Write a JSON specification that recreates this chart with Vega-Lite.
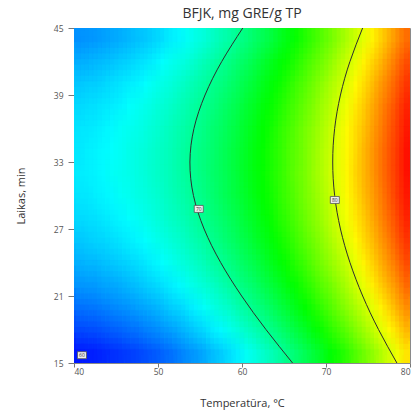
{
  "$schema": "https://vega.github.io/schema/vega-lite/v6.json",
  "width": 336,
  "height": 335,
  "autosize": {"type": "none"},
  "padding": {"left": 74, "top": 28, "right": 2, "bottom": 50},
  "background": "white",
  "title": {
    "text": "BFJK, mg GRE/g TP",
    "font": "Open Sans",
    "fontSize": 14,
    "fontWeight": "normal",
    "color": "#333333",
    "offset": 3
  },
  "config": {
    "view": {"stroke": "#8a8a8a", "strokeWidth": 1},
    "axis": {
      "grid": false,
      "domain": false,
      "labelFont": "Open Sans",
      "labelFontSize": 8.5,
      "labelColor": "#555555",
      "tickColor": "#777777",
      "titleFont": "Open Sans",
      "titleFontSize": 11,
      "titleFontWeight": "normal",
      "titleColor": "#333333"
    }
  },
  "datasets": {
    "surface": [
      {"temp":40.5,"time":16,"bfjk":60.9},{"temp":41.5,"time":16,"bfjk":61.0},{"temp":42.5,"time":16,"bfjk":61.1},{"temp":43.5,"time":16,"bfjk":61.3},{"temp":44.5,"time":16,"bfjk":61.5},{"temp":45.5,"time":16,"bfjk":61.7},{"temp":46.5,"time":16,"bfjk":61.9},{"temp":47.5,"time":16,"bfjk":62.1},{"temp":48.5,"time":16,"bfjk":62.4},{"temp":49.5,"time":16,"bfjk":62.7},
      {"temp":50.5,"time":16,"bfjk":63.0},{"temp":51.5,"time":16,"bfjk":63.3},{"temp":52.5,"time":16,"bfjk":63.7},{"temp":53.5,"time":16,"bfjk":64.1},{"temp":54.5,"time":16,"bfjk":64.5},{"temp":55.5,"time":16,"bfjk":64.9},{"temp":56.5,"time":16,"bfjk":65.4},{"temp":57.5,"time":16,"bfjk":65.8},{"temp":58.5,"time":16,"bfjk":66.3},{"temp":59.5,"time":16,"bfjk":66.8},
      {"temp":60.5,"time":16,"bfjk":67.4},{"temp":61.5,"time":16,"bfjk":67.9},{"temp":62.5,"time":16,"bfjk":68.5},{"temp":63.5,"time":16,"bfjk":69.1},{"temp":64.5,"time":16,"bfjk":69.7},{"temp":65.5,"time":16,"bfjk":70.4},{"temp":66.5,"time":16,"bfjk":71.1},{"temp":67.5,"time":16,"bfjk":71.8},{"temp":68.5,"time":16,"bfjk":72.5},{"temp":69.5,"time":16,"bfjk":73.2},
      {"temp":70.5,"time":16,"bfjk":74.0},{"temp":71.5,"time":16,"bfjk":74.7},{"temp":72.5,"time":16,"bfjk":75.5},{"temp":73.5,"time":16,"bfjk":76.4},{"temp":74.5,"time":16,"bfjk":77.2},{"temp":75.5,"time":16,"bfjk":78.1},{"temp":76.5,"time":16,"bfjk":79.0},{"temp":77.5,"time":16,"bfjk":79.9},{"temp":78.5,"time":16,"bfjk":80.8},{"temp":79.5,"time":16,"bfjk":81.8},

      {"temp":40.5,"time":18,"bfjk":62.2},{"temp":41.5,"time":18,"bfjk":62.3},{"temp":42.5,"time":18,"bfjk":62.4},{"temp":43.5,"time":18,"bfjk":62.6},{"temp":44.5,"time":18,"bfjk":62.8},{"temp":45.5,"time":18,"bfjk":63.0},{"temp":46.5,"time":18,"bfjk":63.2},{"temp":47.5,"time":18,"bfjk":63.4},{"temp":48.5,"time":18,"bfjk":63.7},{"temp":49.5,"time":18,"bfjk":64.0},
      {"temp":50.5,"time":18,"bfjk":64.3},{"temp":51.5,"time":18,"bfjk":64.6},{"temp":52.5,"time":18,"bfjk":65.0},{"temp":53.5,"time":18,"bfjk":65.4},{"temp":54.5,"time":18,"bfjk":65.8},{"temp":55.5,"time":18,"bfjk":66.2},{"temp":56.5,"time":18,"bfjk":66.7},{"temp":57.5,"time":18,"bfjk":67.1},{"temp":58.5,"time":18,"bfjk":67.6},{"temp":59.5,"time":18,"bfjk":68.1},
      {"temp":60.5,"time":18,"bfjk":68.7},{"temp":61.5,"time":18,"bfjk":69.2},{"temp":62.5,"time":18,"bfjk":69.8},{"temp":63.5,"time":18,"bfjk":70.4},{"temp":64.5,"time":18,"bfjk":71.0},{"temp":65.5,"time":18,"bfjk":71.7},{"temp":66.5,"time":18,"bfjk":72.4},{"temp":67.5,"time":18,"bfjk":73.0},{"temp":68.5,"time":18,"bfjk":73.8},{"temp":69.5,"time":18,"bfjk":74.5},
      {"temp":70.5,"time":18,"bfjk":75.3},{"temp":71.5,"time":18,"bfjk":76.0},{"temp":72.5,"time":18,"bfjk":76.8},{"temp":73.5,"time":18,"bfjk":77.7},{"temp":74.5,"time":18,"bfjk":78.5},{"temp":75.5,"time":18,"bfjk":79.4},{"temp":76.5,"time":18,"bfjk":80.3},{"temp":77.5,"time":18,"bfjk":81.2},{"temp":78.5,"time":18,"bfjk":82.1},{"temp":79.5,"time":18,"bfjk":83.1},

      {"temp":40.5,"time":20,"bfjk":63.3},{"temp":41.5,"time":20,"bfjk":63.4},{"temp":42.5,"time":20,"bfjk":63.5},{"temp":43.5,"time":20,"bfjk":63.7},{"temp":44.5,"time":20,"bfjk":63.9},{"temp":45.5,"time":20,"bfjk":64.1},{"temp":46.5,"time":20,"bfjk":64.3},{"temp":47.5,"time":20,"bfjk":64.6},{"temp":48.5,"time":20,"bfjk":64.8},{"temp":49.5,"time":20,"bfjk":65.1},
      {"temp":50.5,"time":20,"bfjk":65.4},{"temp":51.5,"time":20,"bfjk":65.8},{"temp":52.5,"time":20,"bfjk":66.1},{"temp":53.5,"time":20,"bfjk":66.5},{"temp":54.5,"time":20,"bfjk":66.9},{"temp":55.5,"time":20,"bfjk":67.3},{"temp":56.5,"time":20,"bfjk":67.8},{"temp":57.5,"time":20,"bfjk":68.3},{"temp":58.5,"time":20,"bfjk":68.7},{"temp":59.5,"time":20,"bfjk":69.3},
      {"temp":60.5,"time":20,"bfjk":69.8},{"temp":61.5,"time":20,"bfjk":70.4},{"temp":62.5,"time":20,"bfjk":70.9},{"temp":63.5,"time":20,"bfjk":71.5},{"temp":64.5,"time":20,"bfjk":72.2},{"temp":65.5,"time":20,"bfjk":72.8},{"temp":66.5,"time":20,"bfjk":73.5},{"temp":67.5,"time":20,"bfjk":74.2},{"temp":68.5,"time":20,"bfjk":74.9},{"temp":69.5,"time":20,"bfjk":75.6},
      {"temp":70.5,"time":20,"bfjk":76.4},{"temp":71.5,"time":20,"bfjk":77.2},{"temp":72.5,"time":20,"bfjk":78.0},{"temp":73.5,"time":20,"bfjk":78.8},{"temp":74.5,"time":20,"bfjk":79.6},{"temp":75.5,"time":20,"bfjk":80.5},{"temp":76.5,"time":20,"bfjk":81.4},{"temp":77.5,"time":20,"bfjk":82.3},{"temp":78.5,"time":20,"bfjk":83.3},{"temp":79.5,"time":20,"bfjk":84.2},

      {"temp":40.5,"time":22,"bfjk":64.3},{"temp":41.5,"time":22,"bfjk":64.4},{"temp":42.5,"time":22,"bfjk":64.5},{"temp":43.5,"time":22,"bfjk":64.7},{"temp":44.5,"time":22,"bfjk":64.8},{"temp":45.5,"time":22,"bfjk":65.0},{"temp":46.5,"time":22,"bfjk":65.3},{"temp":47.5,"time":22,"bfjk":65.5},{"temp":48.5,"time":22,"bfjk":65.8},{"temp":49.5,"time":22,"bfjk":66.1},
      {"temp":50.5,"time":22,"bfjk":66.4},{"temp":51.5,"time":22,"bfjk":66.7},{"temp":52.5,"time":22,"bfjk":67.1},{"temp":53.5,"time":22,"bfjk":67.5},{"temp":54.5,"time":22,"bfjk":67.9},{"temp":55.5,"time":22,"bfjk":68.3},{"temp":56.5,"time":22,"bfjk":68.7},{"temp":57.5,"time":22,"bfjk":69.2},{"temp":58.5,"time":22,"bfjk":69.7},{"temp":59.5,"time":22,"bfjk":70.2},
      {"temp":60.5,"time":22,"bfjk":70.8},{"temp":61.5,"time":22,"bfjk":71.3},{"temp":62.5,"time":22,"bfjk":71.9},{"temp":63.5,"time":22,"bfjk":72.5},{"temp":64.5,"time":22,"bfjk":73.1},{"temp":65.5,"time":22,"bfjk":73.8},{"temp":66.5,"time":22,"bfjk":74.4},{"temp":67.5,"time":22,"bfjk":75.1},{"temp":68.5,"time":22,"bfjk":75.8},{"temp":69.5,"time":22,"bfjk":76.6},
      {"temp":70.5,"time":22,"bfjk":77.3},{"temp":71.5,"time":22,"bfjk":78.1},{"temp":72.5,"time":22,"bfjk":78.9},{"temp":73.5,"time":22,"bfjk":79.8},{"temp":74.5,"time":22,"bfjk":80.6},{"temp":75.5,"time":22,"bfjk":81.5},{"temp":76.5,"time":22,"bfjk":82.4},{"temp":77.5,"time":22,"bfjk":83.3},{"temp":78.5,"time":22,"bfjk":84.2},{"temp":79.5,"time":22,"bfjk":85.2},

      {"temp":40.5,"time":24,"bfjk":65.1},{"temp":41.5,"time":24,"bfjk":65.2},{"temp":42.5,"time":24,"bfjk":65.3},{"temp":43.5,"time":24,"bfjk":65.5},{"temp":44.5,"time":24,"bfjk":65.7},{"temp":45.5,"time":24,"bfjk":65.9},{"temp":46.5,"time":24,"bfjk":66.1},{"temp":47.5,"time":24,"bfjk":66.3},{"temp":48.5,"time":24,"bfjk":66.6},{"temp":49.5,"time":24,"bfjk":66.9},
      {"temp":50.5,"time":24,"bfjk":67.2},{"temp":51.5,"time":24,"bfjk":67.5},{"temp":52.5,"time":24,"bfjk":67.9},{"temp":53.5,"time":24,"bfjk":68.3},{"temp":54.5,"time":24,"bfjk":68.7},{"temp":55.5,"time":24,"bfjk":69.1},{"temp":56.5,"time":24,"bfjk":69.6},{"temp":57.5,"time":24,"bfjk":70.0},{"temp":58.5,"time":24,"bfjk":70.5},{"temp":59.5,"time":24,"bfjk":71.0},
      {"temp":60.5,"time":24,"bfjk":71.6},{"temp":61.5,"time":24,"bfjk":72.1},{"temp":62.5,"time":24,"bfjk":72.7},{"temp":63.5,"time":24,"bfjk":73.3},{"temp":64.5,"time":24,"bfjk":73.9},{"temp":65.5,"time":24,"bfjk":74.6},{"temp":66.5,"time":24,"bfjk":75.3},{"temp":67.5,"time":24,"bfjk":75.9},{"temp":68.5,"time":24,"bfjk":76.7},{"temp":69.5,"time":24,"bfjk":77.4},
      {"temp":70.5,"time":24,"bfjk":78.2},{"temp":71.5,"time":24,"bfjk":78.9},{"temp":72.5,"time":24,"bfjk":79.7},{"temp":73.5,"time":24,"bfjk":80.6},{"temp":74.5,"time":24,"bfjk":81.4},{"temp":75.5,"time":24,"bfjk":82.3},{"temp":76.5,"time":24,"bfjk":83.2},{"temp":77.5,"time":24,"bfjk":84.1},{"temp":78.5,"time":24,"bfjk":85.0},{"temp":79.5,"time":24,"bfjk":86.0},

      {"temp":40.5,"time":26,"bfjk":65.7},{"temp":41.5,"time":26,"bfjk":65.8},{"temp":42.5,"time":26,"bfjk":66.0},{"temp":43.5,"time":26,"bfjk":66.1},{"temp":44.5,"time":26,"bfjk":66.3},{"temp":45.5,"time":26,"bfjk":66.5},{"temp":46.5,"time":26,"bfjk":66.7},{"temp":47.5,"time":26,"bfjk":67.0},{"temp":48.5,"time":26,"bfjk":67.2},{"temp":49.5,"time":26,"bfjk":67.5},
      {"temp":50.5,"time":26,"bfjk":67.8},{"temp":51.5,"time":26,"bfjk":68.2},{"temp":52.5,"time":26,"bfjk":68.5},{"temp":53.5,"time":26,"bfjk":68.9},{"temp":54.5,"time":26,"bfjk":69.3},{"temp":55.5,"time":26,"bfjk":69.7},{"temp":56.5,"time":26,"bfjk":70.2},{"temp":57.5,"time":26,"bfjk":70.7},{"temp":58.5,"time":26,"bfjk":71.2},{"temp":59.5,"time":26,"bfjk":71.7},
      {"temp":60.5,"time":26,"bfjk":72.2},{"temp":61.5,"time":26,"bfjk":72.8},{"temp":62.5,"time":26,"bfjk":73.3},{"temp":63.5,"time":26,"bfjk":73.9},{"temp":64.5,"time":26,"bfjk":74.6},{"temp":65.5,"time":26,"bfjk":75.2},{"temp":66.5,"time":26,"bfjk":75.9},{"temp":67.5,"time":26,"bfjk":76.6},{"temp":68.5,"time":26,"bfjk":77.3},{"temp":69.5,"time":26,"bfjk":78.0},
      {"temp":70.5,"time":26,"bfjk":78.8},{"temp":71.5,"time":26,"bfjk":79.6},{"temp":72.5,"time":26,"bfjk":80.4},{"temp":73.5,"time":26,"bfjk":81.2},{"temp":74.5,"time":26,"bfjk":82.1},{"temp":75.5,"time":26,"bfjk":82.9},{"temp":76.5,"time":26,"bfjk":83.8},{"temp":77.5,"time":26,"bfjk":84.7},{"temp":78.5,"time":26,"bfjk":85.7},{"temp":79.5,"time":26,"bfjk":86.6},

      {"temp":40.5,"time":28,"bfjk":66.2},{"temp":41.5,"time":28,"bfjk":66.3},{"temp":42.5,"time":28,"bfjk":66.4},{"temp":43.5,"time":28,"bfjk":66.6},{"temp":44.5,"time":28,"bfjk":66.8},{"temp":45.5,"time":28,"bfjk":67.0},{"temp":46.5,"time":28,"bfjk":67.2},{"temp":47.5,"time":28,"bfjk":67.4},{"temp":48.5,"time":28,"bfjk":67.7},{"temp":49.5,"time":28,"bfjk":68.0},
      {"temp":50.5,"time":28,"bfjk":68.3},{"temp":51.5,"time":28,"bfjk":68.7},{"temp":52.5,"time":28,"bfjk":69.0},{"temp":53.5,"time":28,"bfjk":69.4},{"temp":54.5,"time":28,"bfjk":69.8},{"temp":55.5,"time":28,"bfjk":70.2},{"temp":56.5,"time":28,"bfjk":70.7},{"temp":57.5,"time":28,"bfjk":71.1},{"temp":58.5,"time":28,"bfjk":71.6},{"temp":59.5,"time":28,"bfjk":72.1},
      {"temp":60.5,"time":28,"bfjk":72.7},{"temp":61.5,"time":28,"bfjk":73.2},{"temp":62.5,"time":28,"bfjk":73.8},{"temp":63.5,"time":28,"bfjk":74.4},{"temp":64.5,"time":28,"bfjk":75.1},{"temp":65.5,"time":28,"bfjk":75.7},{"temp":66.5,"time":28,"bfjk":76.4},{"temp":67.5,"time":28,"bfjk":77.1},{"temp":68.5,"time":28,"bfjk":77.8},{"temp":69.5,"time":28,"bfjk":78.5},
      {"temp":70.5,"time":28,"bfjk":79.3},{"temp":71.5,"time":28,"bfjk":80.1},{"temp":72.5,"time":28,"bfjk":80.9},{"temp":73.5,"time":28,"bfjk":81.7},{"temp":74.5,"time":28,"bfjk":82.5},{"temp":75.5,"time":28,"bfjk":83.4},{"temp":76.5,"time":28,"bfjk":84.3},{"temp":77.5,"time":28,"bfjk":85.2},{"temp":78.5,"time":28,"bfjk":86.1},{"temp":79.5,"time":28,"bfjk":87.1},

      {"temp":40.5,"time":30,"bfjk":66.5},{"temp":41.5,"time":30,"bfjk":66.6},{"temp":42.5,"time":30,"bfjk":66.8},{"temp":43.5,"time":30,"bfjk":66.9},{"temp":44.5,"time":30,"bfjk":67.1},{"temp":45.5,"time":30,"bfjk":67.3},{"temp":46.5,"time":30,"bfjk":67.5},{"temp":47.5,"time":30,"bfjk":67.8},{"temp":48.5,"time":30,"bfjk":68.0},{"temp":49.5,"time":30,"bfjk":68.3},
      {"temp":50.5,"time":30,"bfjk":68.6},{"temp":51.5,"time":30,"bfjk":69.0},{"temp":52.5,"time":30,"bfjk":69.3},{"temp":53.5,"time":30,"bfjk":69.7},{"temp":54.5,"time":30,"bfjk":70.1},{"temp":55.5,"time":30,"bfjk":70.5},{"temp":56.5,"time":30,"bfjk":71.0},{"temp":57.5,"time":30,"bfjk":71.5},{"temp":58.5,"time":30,"bfjk":72.0},{"temp":59.5,"time":30,"bfjk":72.5},
      {"temp":60.5,"time":30,"bfjk":73.0},{"temp":61.5,"time":30,"bfjk":73.6},{"temp":62.5,"time":30,"bfjk":74.1},{"temp":63.5,"time":30,"bfjk":74.7},{"temp":64.5,"time":30,"bfjk":75.4},{"temp":65.5,"time":30,"bfjk":76.0},{"temp":66.5,"time":30,"bfjk":76.7},{"temp":67.5,"time":30,"bfjk":77.4},{"temp":68.5,"time":30,"bfjk":78.1},{"temp":69.5,"time":30,"bfjk":78.8},
      {"temp":70.5,"time":30,"bfjk":79.6},{"temp":71.5,"time":30,"bfjk":80.4},{"temp":72.5,"time":30,"bfjk":81.2},{"temp":73.5,"time":30,"bfjk":82.0},{"temp":74.5,"time":30,"bfjk":82.9},{"temp":75.5,"time":30,"bfjk":83.7},{"temp":76.5,"time":30,"bfjk":84.6},{"temp":77.5,"time":30,"bfjk":85.5},{"temp":78.5,"time":30,"bfjk":86.5},{"temp":79.5,"time":30,"bfjk":87.4},

      {"temp":40.5,"time":32,"bfjk":66.7},{"temp":41.5,"time":32,"bfjk":66.8},{"temp":42.5,"time":32,"bfjk":66.9},{"temp":43.5,"time":32,"bfjk":67.1},{"temp":44.5,"time":32,"bfjk":67.3},{"temp":45.5,"time":32,"bfjk":67.5},{"temp":46.5,"time":32,"bfjk":67.7},{"temp":47.5,"time":32,"bfjk":67.9},{"temp":48.5,"time":32,"bfjk":68.2},{"temp":49.5,"time":32,"bfjk":68.5},
      {"temp":50.5,"time":32,"bfjk":68.8},{"temp":51.5,"time":32,"bfjk":69.1},{"temp":52.5,"time":32,"bfjk":69.5},{"temp":53.5,"time":32,"bfjk":69.9},{"temp":54.5,"time":32,"bfjk":70.3},{"temp":55.5,"time":32,"bfjk":70.7},{"temp":56.5,"time":32,"bfjk":71.2},{"temp":57.5,"time":32,"bfjk":71.6},{"temp":58.5,"time":32,"bfjk":72.1},{"temp":59.5,"time":32,"bfjk":72.6},
      {"temp":60.5,"time":32,"bfjk":73.2},{"temp":61.5,"time":32,"bfjk":73.7},{"temp":62.5,"time":32,"bfjk":74.3},{"temp":63.5,"time":32,"bfjk":74.9},{"temp":64.5,"time":32,"bfjk":75.5},{"temp":65.5,"time":32,"bfjk":76.2},{"temp":66.5,"time":32,"bfjk":76.9},{"temp":67.5,"time":32,"bfjk":77.5},{"temp":68.5,"time":32,"bfjk":78.3},{"temp":69.5,"time":32,"bfjk":79.0},
      {"temp":70.5,"time":32,"bfjk":79.8},{"temp":71.5,"time":32,"bfjk":80.5},{"temp":72.5,"time":32,"bfjk":81.3},{"temp":73.5,"time":32,"bfjk":82.2},{"temp":74.5,"time":32,"bfjk":83.0},{"temp":75.5,"time":32,"bfjk":83.9},{"temp":76.5,"time":32,"bfjk":84.8},{"temp":77.5,"time":32,"bfjk":85.7},{"temp":78.5,"time":32,"bfjk":86.6},{"temp":79.5,"time":32,"bfjk":87.6},

      {"temp":40.5,"time":34,"bfjk":66.6},{"temp":41.5,"time":34,"bfjk":66.8},{"temp":42.5,"time":34,"bfjk":66.9},{"temp":43.5,"time":34,"bfjk":67.1},{"temp":44.5,"time":34,"bfjk":67.2},{"temp":45.5,"time":34,"bfjk":67.4},{"temp":46.5,"time":34,"bfjk":67.7},{"temp":47.5,"time":34,"bfjk":67.9},{"temp":48.5,"time":34,"bfjk":68.2},{"temp":49.5,"time":34,"bfjk":68.5},
      {"temp":50.5,"time":34,"bfjk":68.8},{"temp":51.5,"time":34,"bfjk":69.1},{"temp":52.5,"time":34,"bfjk":69.5},{"temp":53.5,"time":34,"bfjk":69.9},{"temp":54.5,"time":34,"bfjk":70.3},{"temp":55.5,"time":34,"bfjk":70.7},{"temp":56.5,"time":34,"bfjk":71.1},{"temp":57.5,"time":34,"bfjk":71.6},{"temp":58.5,"time":34,"bfjk":72.1},{"temp":59.5,"time":34,"bfjk":72.6},
      {"temp":60.5,"time":34,"bfjk":73.1},{"temp":61.5,"time":34,"bfjk":73.7},{"temp":62.5,"time":34,"bfjk":74.3},{"temp":63.5,"time":34,"bfjk":74.9},{"temp":64.5,"time":34,"bfjk":75.5},{"temp":65.5,"time":34,"bfjk":76.2},{"temp":66.5,"time":34,"bfjk":76.8},{"temp":67.5,"time":34,"bfjk":77.5},{"temp":68.5,"time":34,"bfjk":78.2},{"temp":69.5,"time":34,"bfjk":79.0},
      {"temp":70.5,"time":34,"bfjk":79.7},{"temp":71.5,"time":34,"bfjk":80.5},{"temp":72.5,"time":34,"bfjk":81.3},{"temp":73.5,"time":34,"bfjk":82.1},{"temp":74.5,"time":34,"bfjk":83.0},{"temp":75.5,"time":34,"bfjk":83.9},{"temp":76.5,"time":34,"bfjk":84.8},{"temp":77.5,"time":34,"bfjk":85.7},{"temp":78.5,"time":34,"bfjk":86.6},{"temp":79.5,"time":34,"bfjk":87.6},

      {"temp":40.5,"time":36,"bfjk":66.5},{"temp":41.5,"time":36,"bfjk":66.6},{"temp":42.5,"time":36,"bfjk":66.7},{"temp":43.5,"time":36,"bfjk":66.9},{"temp":44.5,"time":36,"bfjk":67.1},{"temp":45.5,"time":36,"bfjk":67.3},{"temp":46.5,"time":36,"bfjk":67.5},{"temp":47.5,"time":36,"bfjk":67.7},{"temp":48.5,"time":36,"bfjk":68.0},{"temp":49.5,"time":36,"bfjk":68.3},
      {"temp":50.5,"time":36,"bfjk":68.6},{"temp":51.5,"time":36,"bfjk":69.0},{"temp":52.5,"time":36,"bfjk":69.3},{"temp":53.5,"time":36,"bfjk":69.7},{"temp":54.5,"time":36,"bfjk":70.1},{"temp":55.5,"time":36,"bfjk":70.5},{"temp":56.5,"time":36,"bfjk":71.0},{"temp":57.5,"time":36,"bfjk":71.4},{"temp":58.5,"time":36,"bfjk":71.9},{"temp":59.5,"time":36,"bfjk":72.4},
      {"temp":60.5,"time":36,"bfjk":73.0},{"temp":61.5,"time":36,"bfjk":73.5},{"temp":62.5,"time":36,"bfjk":74.1},{"temp":63.5,"time":36,"bfjk":74.7},{"temp":64.5,"time":36,"bfjk":75.4},{"temp":65.5,"time":36,"bfjk":76.0},{"temp":66.5,"time":36,"bfjk":76.7},{"temp":67.5,"time":36,"bfjk":77.4},{"temp":68.5,"time":36,"bfjk":78.1},{"temp":69.5,"time":36,"bfjk":78.8},
      {"temp":70.5,"time":36,"bfjk":79.6},{"temp":71.5,"time":36,"bfjk":80.4},{"temp":72.5,"time":36,"bfjk":81.2},{"temp":73.5,"time":36,"bfjk":82.0},{"temp":74.5,"time":36,"bfjk":82.8},{"temp":75.5,"time":36,"bfjk":83.7},{"temp":76.5,"time":36,"bfjk":84.6},{"temp":77.5,"time":36,"bfjk":85.5},{"temp":78.5,"time":36,"bfjk":86.4},{"temp":79.5,"time":36,"bfjk":87.4},

      {"temp":40.5,"time":38,"bfjk":66.2},{"temp":41.5,"time":38,"bfjk":66.3},{"temp":42.5,"time":38,"bfjk":66.4},{"temp":43.5,"time":38,"bfjk":66.6},{"temp":44.5,"time":38,"bfjk":66.7},{"temp":45.5,"time":38,"bfjk":66.9},{"temp":46.5,"time":38,"bfjk":67.2},{"temp":47.5,"time":38,"bfjk":67.4},{"temp":48.5,"time":38,"bfjk":67.7},{"temp":49.5,"time":38,"bfjk":68.0},
      {"temp":50.5,"time":38,"bfjk":68.3},{"temp":51.5,"time":38,"bfjk":68.6},{"temp":52.5,"time":38,"bfjk":69.0},{"temp":53.5,"time":38,"bfjk":69.4},{"temp":54.5,"time":38,"bfjk":69.8},{"temp":55.5,"time":38,"bfjk":70.2},{"temp":56.5,"time":38,"bfjk":70.6},{"temp":57.5,"time":38,"bfjk":71.1},{"temp":58.5,"time":38,"bfjk":71.6},{"temp":59.5,"time":38,"bfjk":72.1},
      {"temp":60.5,"time":38,"bfjk":72.7},{"temp":61.5,"time":38,"bfjk":73.2},{"temp":62.5,"time":38,"bfjk":73.8},{"temp":63.5,"time":38,"bfjk":74.4},{"temp":64.5,"time":38,"bfjk":75.0},{"temp":65.5,"time":38,"bfjk":75.7},{"temp":66.5,"time":38,"bfjk":76.3},{"temp":67.5,"time":38,"bfjk":77.0},{"temp":68.5,"time":38,"bfjk":77.7},{"temp":69.5,"time":38,"bfjk":78.5},
      {"temp":70.5,"time":38,"bfjk":79.2},{"temp":71.5,"time":38,"bfjk":80.0},{"temp":72.5,"time":38,"bfjk":80.8},{"temp":73.5,"time":38,"bfjk":81.7},{"temp":74.5,"time":38,"bfjk":82.5},{"temp":75.5,"time":38,"bfjk":83.4},{"temp":76.5,"time":38,"bfjk":84.3},{"temp":77.5,"time":38,"bfjk":85.2},{"temp":78.5,"time":38,"bfjk":86.1},{"temp":79.5,"time":38,"bfjk":87.1},

      {"temp":40.5,"time":40,"bfjk":65.7},{"temp":41.5,"time":40,"bfjk":65.8},{"temp":42.5,"time":40,"bfjk":65.9},{"temp":43.5,"time":40,"bfjk":66.1},{"temp":44.5,"time":40,"bfjk":66.3},{"temp":45.5,"time":40,"bfjk":66.5},{"temp":46.5,"time":40,"bfjk":66.7},{"temp":47.5,"time":40,"bfjk":66.9},{"temp":48.5,"time":40,"bfjk":67.2},{"temp":49.5,"time":40,"bfjk":67.5},
      {"temp":50.5,"time":40,"bfjk":67.8},{"temp":51.5,"time":40,"bfjk":68.1},{"temp":52.5,"time":40,"bfjk":68.5},{"temp":53.5,"time":40,"bfjk":68.9},{"temp":54.5,"time":40,"bfjk":69.3},{"temp":55.5,"time":40,"bfjk":69.7},{"temp":56.5,"time":40,"bfjk":70.2},{"temp":57.5,"time":40,"bfjk":70.6},{"temp":58.5,"time":40,"bfjk":71.1},{"temp":59.5,"time":40,"bfjk":71.6},
      {"temp":60.5,"time":40,"bfjk":72.2},{"temp":61.5,"time":40,"bfjk":72.7},{"temp":62.5,"time":40,"bfjk":73.3},{"temp":63.5,"time":40,"bfjk":73.9},{"temp":64.5,"time":40,"bfjk":74.5},{"temp":65.5,"time":40,"bfjk":75.2},{"temp":66.5,"time":40,"bfjk":75.9},{"temp":67.5,"time":40,"bfjk":76.5},{"temp":68.5,"time":40,"bfjk":77.3},{"temp":69.5,"time":40,"bfjk":78.0},
      {"temp":70.5,"time":40,"bfjk":78.8},{"temp":71.5,"time":40,"bfjk":79.5},{"temp":72.5,"time":40,"bfjk":80.3},{"temp":73.5,"time":40,"bfjk":81.2},{"temp":74.5,"time":40,"bfjk":82.0},{"temp":75.5,"time":40,"bfjk":82.9},{"temp":76.5,"time":40,"bfjk":83.8},{"temp":77.5,"time":40,"bfjk":84.7},{"temp":78.5,"time":40,"bfjk":85.6},{"temp":79.5,"time":40,"bfjk":86.6},

      {"temp":40.5,"time":42,"bfjk":65.0},{"temp":41.5,"time":42,"bfjk":65.1},{"temp":42.5,"time":42,"bfjk":65.3},{"temp":43.5,"time":42,"bfjk":65.4},{"temp":44.5,"time":42,"bfjk":65.6},{"temp":45.5,"time":42,"bfjk":65.8},{"temp":46.5,"time":42,"bfjk":66.0},{"temp":47.5,"time":42,"bfjk":66.3},{"temp":48.5,"time":42,"bfjk":66.5},{"temp":49.5,"time":42,"bfjk":66.8},
      {"temp":50.5,"time":42,"bfjk":67.2},{"temp":51.5,"time":42,"bfjk":67.5},{"temp":52.5,"time":42,"bfjk":67.8},{"temp":53.5,"time":42,"bfjk":68.2},{"temp":54.5,"time":42,"bfjk":68.6},{"temp":55.5,"time":42,"bfjk":69.1},{"temp":56.5,"time":42,"bfjk":69.5},{"temp":57.5,"time":42,"bfjk":70.0},{"temp":58.5,"time":42,"bfjk":70.5},{"temp":59.5,"time":42,"bfjk":71.0},
      {"temp":60.5,"time":42,"bfjk":71.5},{"temp":61.5,"time":42,"bfjk":72.1},{"temp":62.5,"time":42,"bfjk":72.7},{"temp":63.5,"time":42,"bfjk":73.3},{"temp":64.5,"time":42,"bfjk":73.9},{"temp":65.5,"time":42,"bfjk":74.5},{"temp":66.5,"time":42,"bfjk":75.2},{"temp":67.5,"time":42,"bfjk":75.9},{"temp":68.5,"time":42,"bfjk":76.6},{"temp":69.5,"time":42,"bfjk":77.3},
      {"temp":70.5,"time":42,"bfjk":78.1},{"temp":71.5,"time":42,"bfjk":78.9},{"temp":72.5,"time":42,"bfjk":79.7},{"temp":73.5,"time":42,"bfjk":80.5},{"temp":74.5,"time":42,"bfjk":81.4},{"temp":75.5,"time":42,"bfjk":82.2},{"temp":76.5,"time":42,"bfjk":83.1},{"temp":77.5,"time":42,"bfjk":84.0},{"temp":78.5,"time":42,"bfjk":85.0},{"temp":79.5,"time":42,"bfjk":85.9},

      {"temp":40.5,"time":44,"bfjk":64.2},{"temp":41.5,"time":44,"bfjk":64.3},{"temp":42.5,"time":44,"bfjk":64.4},{"temp":43.5,"time":44,"bfjk":64.6},{"temp":44.5,"time":44,"bfjk":64.8},{"temp":45.5,"time":44,"bfjk":65.0},{"temp":46.5,"time":44,"bfjk":65.2},{"temp":47.5,"time":44,"bfjk":65.5},{"temp":48.5,"time":44,"bfjk":65.7},{"temp":49.5,"time":44,"bfjk":66.0},
      {"temp":50.5,"time":44,"bfjk":66.3},{"temp":51.5,"time":44,"bfjk":66.7},{"temp":52.5,"time":44,"bfjk":67.0},{"temp":53.5,"time":44,"bfjk":67.4},{"temp":54.5,"time":44,"bfjk":67.8},{"temp":55.5,"time":44,"bfjk":68.2},{"temp":56.5,"time":44,"bfjk":68.7},{"temp":57.5,"time":44,"bfjk":69.2},{"temp":58.5,"time":44,"bfjk":69.6},{"temp":59.5,"time":44,"bfjk":70.2},
      {"temp":60.5,"time":44,"bfjk":70.7},{"temp":61.5,"time":44,"bfjk":71.3},{"temp":62.5,"time":44,"bfjk":71.8},{"temp":63.5,"time":44,"bfjk":72.4},{"temp":64.5,"time":44,"bfjk":73.1},{"temp":65.5,"time":44,"bfjk":73.7},{"temp":66.5,"time":44,"bfjk":74.4},{"temp":67.5,"time":44,"bfjk":75.1},{"temp":68.5,"time":44,"bfjk":75.8},{"temp":69.5,"time":44,"bfjk":76.5},
      {"temp":70.5,"time":44,"bfjk":77.3},{"temp":71.5,"time":44,"bfjk":78.1},{"temp":72.5,"time":44,"bfjk":78.9},{"temp":73.5,"time":44,"bfjk":79.7},{"temp":74.5,"time":44,"bfjk":80.5},{"temp":75.5,"time":44,"bfjk":81.4},{"temp":76.5,"time":44,"bfjk":82.3},{"temp":77.5,"time":44,"bfjk":83.2},{"temp":78.5,"time":44,"bfjk":84.2},{"temp":79.5,"time":44,"bfjk":85.1}
    ],
    "contours": [
      {"level":70,"temp":66.02,"time":15},{"level":70,"temp":62.85,"time":18},{"level":70,"temp":59.96,"time":21},{"level":70,"temp":57.46,"time":24},{"level":70,"temp":55.49,"time":27},{"level":70,"temp":54.22,"time":30},{"level":70,"temp":53.8,"time":33},{"level":70,"temp":54.28,"time":36},{"level":70,"temp":55.6,"time":39},{"level":70,"temp":57.59,"time":42},{"level":70,"temp":60.09,"time":45},
      {"level":80,"temp":78.44,"time":15},{"level":80,"temp":76.25,"time":18},{"level":80,"temp":74.37,"time":21},{"level":80,"temp":72.85,"time":24},{"level":80,"temp":71.72,"time":27},{"level":80,"temp":71.03,"time":30},{"level":80,"temp":70.8,"time":33},{"level":80,"temp":71.03,"time":36},{"level":80,"temp":71.72,"time":39},{"level":80,"temp":72.85,"time":42},{"level":80,"temp":74.36,"time":45}
    ],
    "contourLabels": [
      {"level":60,"temp":40.95,"time":15.7},
      {"level":70,"temp":54.85,"time":28.8},
      {"level":80,"temp":71.05,"time":29.6}
    ]
  },
  "encoding": {
    "x": {
      "field": "temp",
      "type": "quantitative",
      "scale": {"domain": [40, 80], "nice": false, "zero": false},
      "axis": {
        "title": "Temperatūra, °C",
        "values": [40, 50, 60, 70, 80],
        "tickSize": 4,
        "labelPadding": 0,
        "titlePadding": 22
      }
    },
    "y": {
      "field": "time",
      "type": "quantitative",
      "scale": {"domain": [15, 45], "nice": false, "zero": false},
      "axis": {
        "title": "Laikas, min",
        "values": [15, 21, 27, 33, 39, 45],
        "tickSize": 6,
        "labelPadding": 5,
        "titlePadding": 27
      }
    }
  },
  "layer": [
    {
      "data": {"name": "surface"},
      "mark": {"type": "rect", "width": 9, "height": 23, "clip": true},
      "encoding": {
        "color": {
          "field": "bfjk",
          "type": "quantitative",
          "scale": {
            "domain": [60.2, 67.175, 74.15, 81.125, 88.1],
            "range": ["#0000ff", "#00ffff", "#00ff00", "#ffff00", "#ff0000"],
            "interpolate": "rgb"
          },
          "legend": null
        }
      }
    },
    {
      "data": {"name": "surface"},
      "mark": {"type": "rect", "width": 9, "height": 23, "clip": true, "xOffset": -2.1, "yOffset": -8.4, "opacity": 1},
      "encoding": {"color": {"field": "bfjk", "type": "quantitative", "legend": null}}
    },
    {
      "data": {"name": "surface"},
      "mark": {"type": "rect", "width": 9, "height": 23, "clip": true, "xOffset": 2.1, "yOffset": -8.4, "opacity": 0.5},
      "encoding": {"color": {"field": "bfjk", "type": "quantitative", "legend": null}}
    },
    {
      "data": {"name": "surface"},
      "mark": {"type": "rect", "width": 9, "height": 23, "clip": true, "xOffset": -2.1, "yOffset": -2.8, "opacity": 0.3333},
      "encoding": {"color": {"field": "bfjk", "type": "quantitative", "legend": null}}
    },
    {
      "data": {"name": "surface"},
      "mark": {"type": "rect", "width": 9, "height": 23, "clip": true, "xOffset": 2.1, "yOffset": -2.8, "opacity": 0.25},
      "encoding": {"color": {"field": "bfjk", "type": "quantitative", "legend": null}}
    },
    {
      "data": {"name": "surface"},
      "mark": {"type": "rect", "width": 9, "height": 23, "clip": true, "xOffset": -2.1, "yOffset": 2.8, "opacity": 0.2},
      "encoding": {"color": {"field": "bfjk", "type": "quantitative", "legend": null}}
    },
    {
      "data": {"name": "surface"},
      "mark": {"type": "rect", "width": 9, "height": 23, "clip": true, "xOffset": 2.1, "yOffset": 2.8, "opacity": 0.1667},
      "encoding": {"color": {"field": "bfjk", "type": "quantitative", "legend": null}}
    },
    {
      "data": {"name": "surface"},
      "mark": {"type": "rect", "width": 9, "height": 23, "clip": true, "xOffset": -2.1, "yOffset": 8.4, "opacity": 0.1429},
      "encoding": {"color": {"field": "bfjk", "type": "quantitative", "legend": null}}
    },
    {
      "data": {"name": "surface"},
      "mark": {"type": "rect", "width": 9, "height": 23, "clip": true, "xOffset": 2.1, "yOffset": 8.4, "opacity": 0.125},
      "encoding": {"color": {"field": "bfjk", "type": "quantitative", "legend": null}}
    },
    {
      "data": {"name": "contours"},
      "mark": {"type": "line", "interpolate": "natural", "color": "#2e2e2e", "strokeWidth": 1, "clip": true},
      "encoding": {
        "detail": {"field": "level", "type": "nominal"},
        "order": {"field": "time", "type": "quantitative"}
      }
    },
    {
      "data": {"name": "contourLabels"},
      "mark": {"type": "rect", "width": 9, "height": 7, "fill": "#eeeeee", "stroke": "#555555", "strokeWidth": 0.8}
    },
    {
      "data": {"name": "contourLabels"},
      "mark": {"type": "text", "font": "Open Sans", "fontSize": 5, "color": "#333333", "align": "center", "baseline": "middle"},
      "encoding": {
        "text": {"field": "level", "type": "nominal"}
      }
    }
  ]
}
